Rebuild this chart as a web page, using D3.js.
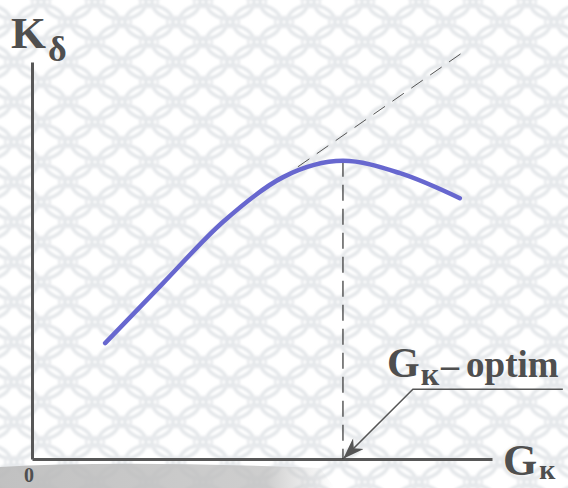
<!DOCTYPE html>
<html>
<head>
<meta charset="utf-8">
<script src="https://cdn.jsdelivr.net/npm/d3@7"></script>
<style>
  html, body { margin: 0; padding: 0; background: #fff; }
  svg { display: block; }
  text { font-family: "Liberation Serif", "Times New Roman", serif; font-weight: bold; fill: #4f4f4f; }
</style>
</head>
<body>
<svg id="chart" width="568" height="488"></svg>
<script>
// Kδ as a function of Gк: rises, peaks at the optimum, then falls off
const gk = [1.59, 2.85, 4.15, 5.46, 6.76, 8.0, 9.3];
const kd = [2.92, 4.43, 5.97, 7.1, 7.51, 7.2, 6.57];

// straight-line trend the curve would follow without the drop-off
const trendX = [5.78, 9.35];
const trendY = [7.36, 10.23];

// optimum point
const optimum = [6.76, 7.51];
// leader for the "Gк– optim" callout: elbow and right end
const leaderX = [8.28, 11.54];
const leaderY = [1.76, 1.76];

const svg = d3.select("#chart");
const W = 568, H = 488;

const x = d3.scaleLinear().domain([0, 10]).range([32, 492]);
const y = d3.scaleLinear().domain([0, 10]).range([459, 62]);

// lattice background
const defs = svg.append("defs");
defs.append("filter").attr("id", "soft")
  .append("feGaussianBlur").attr("stdDeviation", 0.9);
const pat = defs.append("pattern")
  .attr("id", "lattice").attr("patternUnits", "userSpaceOnUse")
  .attr("width", 54).attr("height", 40).attr("x", 14).attr("y", 2);
const pg = pat.append("g").attr("filter", "url(#soft)");
[[0,0],[54,0],[0,40],[54,40],[27,20]].forEach(([cx, cy]) => {
  pg.append("ellipse").attr("cx", cx).attr("cy", cy).attr("rx", 24).attr("ry", 17)
    .attr("fill", "none").attr("stroke", "#e4e7ea").attr("stroke-width", 3.5);
});
[[27,0],[27,40],[0,20],[54,20]].forEach(([cx, cy]) => {
  pg.append("ellipse").attr("cx", cx).attr("cy", cy).attr("rx", 9).attr("ry", 5)
    .attr("fill", "none").attr("stroke", "#e8eaed").attr("stroke-width", 2.5);
});
svg.append("rect").attr("width", W).attr("height", H).attr("fill", "#fff");
svg.append("rect").attr("width", W).attr("height", H).attr("fill", "url(#lattice)");

// grey band along the bottom edge
const fade = defs.append("linearGradient").attr("id", "fade")
  .attr("x1", 0).attr("x2", 1).attr("y1", 0).attr("y2", 0);
fade.append("stop").attr("offset", 0).attr("stop-color", "#bababa").attr("stop-opacity", 0.9);
fade.append("stop").attr("offset", 0.8).attr("stop-color", "#c2c2c2").attr("stop-opacity", 0.8);
fade.append("stop").attr("offset", 1).attr("stop-color", "#d0d0d0").attr("stop-opacity", 0);
svg.append("path")
  .attr("d", "M0,467 Q120,460 320,468 L335,488 L0,488 Z")
  .attr("fill", "url(#fade)");

// arrowhead marker
defs.append("marker")
  .attr("id", "arrow").attr("viewBox", "0 0 20 14")
  .attr("refX", 19).attr("refY", 7)
  .attr("markerWidth", 22).attr("markerHeight", 15)
  .attr("markerUnits", "userSpaceOnUse")
  .attr("orient", "auto")
  .append("path").attr("d", "M0,0 L20,7 L0,14 L6,7 Z").attr("fill", "#555");

// axes
const xAxis = d3.axisBottom(x).tickValues([]).tickSizeOuter(0);
const yAxis = d3.axisLeft(y).tickValues([]).tickSizeOuter(0);
const gx = svg.append("g").attr("transform", `translate(0,${y(0)})`).call(xAxis);
const gy = svg.append("g").attr("transform", `translate(${x(0)},0)`).call(yAxis);
[gx, gy].forEach(g => g.select(".domain").attr("stroke", "#575757").attr("stroke-width", 3));

// dashed trend line and optimum drop line
svg.append("line")
  .attr("x1", x(trendX[0])).attr("y1", y(trendY[0]))
  .attr("x2", x(trendX[1])).attr("y2", y(trendY[1]))
  .attr("stroke", "#555").attr("stroke-width", 1).attr("stroke-dasharray", "14,9");
svg.append("line")
  .attr("x1", x(optimum[0])).attr("y1", y(optimum[1]))
  .attr("x2", x(optimum[0])).attr("y2", y(0))
  .attr("stroke", "#333").attr("stroke-width", 1.2).attr("stroke-dasharray", "16,8");

// main curve
const pts = gk.map((v, i) => [v, kd[i]]);
svg.append("path")
  .datum(pts)
  .attr("d", d3.line().x(d => x(d[0])).y(d => y(d[1])).curve(d3.curveMonotoneX))
  .attr("fill", "none").attr("stroke", "#6767cf").attr("stroke-width", 4.5)
  .attr("stroke-linecap", "round");

// callout leader
svg.append("path")
  .attr("d", `M${x(leaderX[1])},${y(leaderY[1])} L${x(leaderX[0])},${y(leaderY[0])} L${x(optimum[0]) + 1},${y(0) - 1}`)
  .attr("fill", "none").attr("stroke", "#555").attr("stroke-width", 1.5)
  .attr("marker-end", "url(#arrow)");

// axis titles
const kt = svg.append("text").attr("x", 11).attr("y", 48);
kt.append("tspan").attr("font-size", 45).text("K");
kt.append("tspan").attr("font-size", 36).attr("dx", 2).attr("dy", 13).text("δ");

const gt = svg.append("text").attr("x", 503).attr("y", 475);
gt.append("tspan").attr("font-size", 44).text("G");
gt.append("tspan").attr("font-size", 28).attr("dx", 2).attr("dy", 4).text("к");

const ot = svg.append("text").attr("x", 387).attr("y", 377);
ot.append("tspan").attr("font-size", 42).text("G");
ot.append("tspan").attr("font-size", 32).attr("dx", 1).attr("dy", 8).text("к");
ot.append("tspan").attr("font-size", 36).attr("dx", 2).attr("dy", -8).text("–");
ot.append("tspan").attr("font-size", 37).attr("dx", 7).text("optim");

svg.append("text").attr("x", 24).attr("y", 482).attr("font-size", 20).text("0");
</script>
</body>
</html>
